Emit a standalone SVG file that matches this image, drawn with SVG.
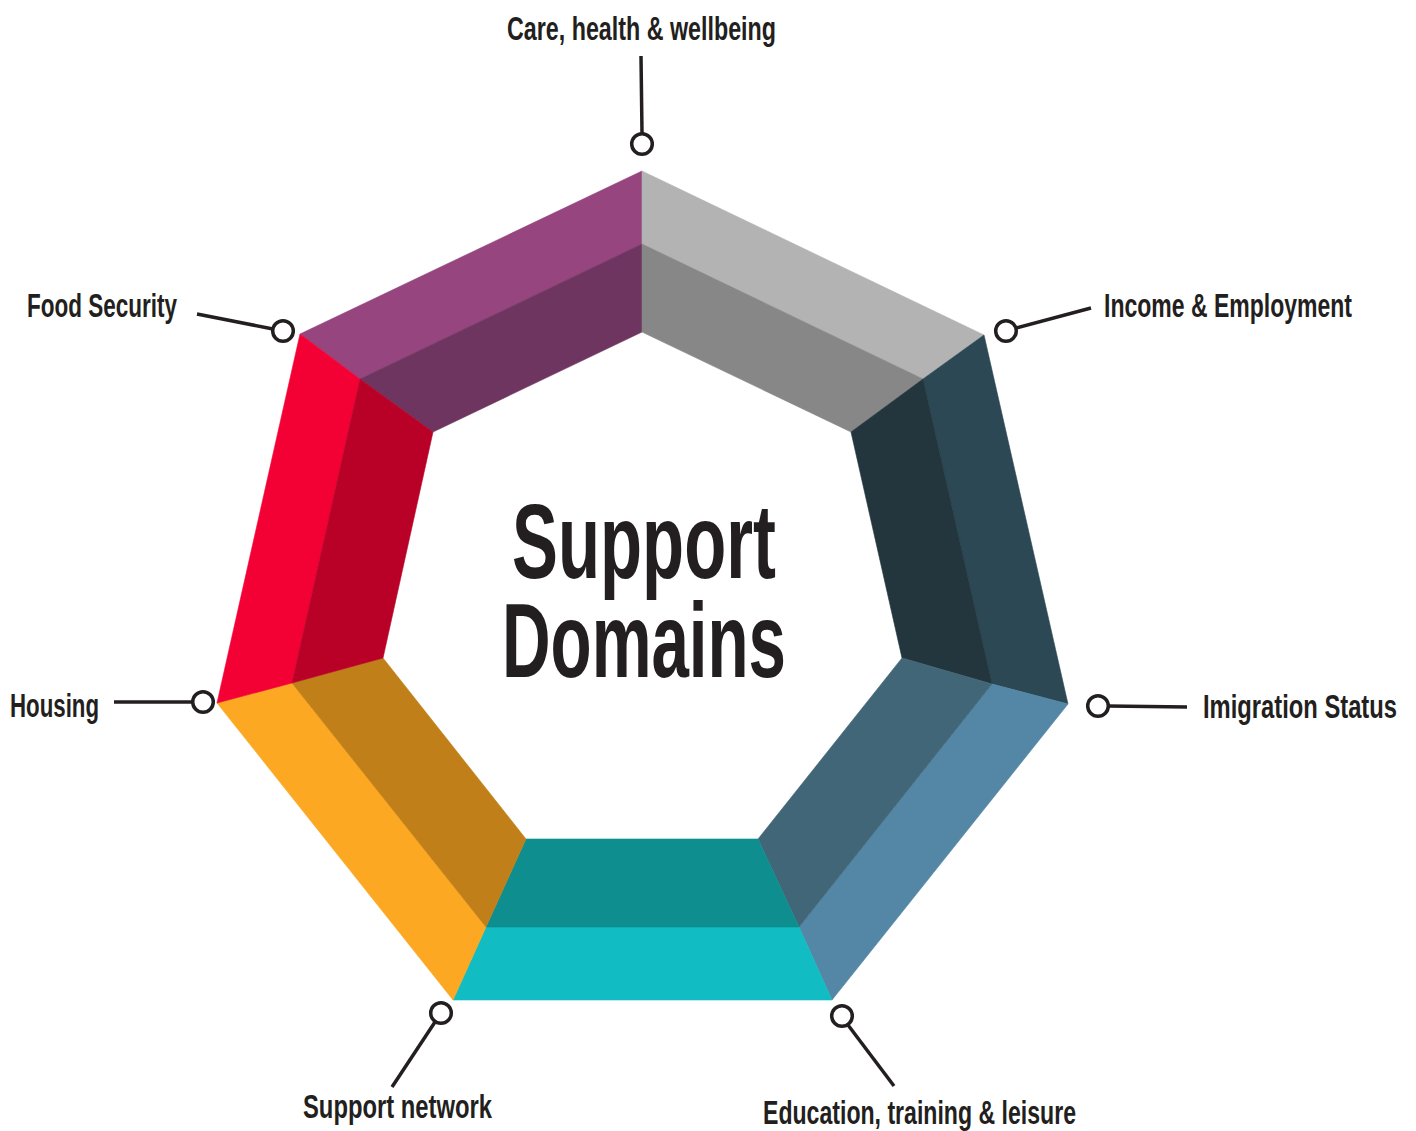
<svg xmlns="http://www.w3.org/2000/svg" width="1416" height="1131" viewBox="0 0 1416 1131">
  <style>
    .lbl { font-family: "Liberation Sans Narrow", "Liberation Sans", "DejaVu Sans Condensed", sans-serif; font-weight: bold; font-size: 33px; fill: #231f20; }
    .title { font-family: "Liberation Sans Narrow", "Liberation Sans", "DejaVu Sans Condensed", sans-serif; font-weight: bold; font-size: 106px; fill: #231f20; }
    .conn line { stroke: #231f20; stroke-width: 3.5; stroke-linecap: butt; }
    .conn circle { fill: #ffffff; stroke: #231f20; stroke-width: 3.5; }
    .seg polygon { stroke-width: 0.6; stroke-linejoin: round; }
  </style>
  <rect x="0" y="0" width="1416" height="1131" fill="#ffffff"/>

  <g id="ring">
    <g id="seg-care" class="seg">
      <polygon points="300,334 642,171 642,244 360,379" fill="#96457f" stroke="#96457f"/>
      <polygon points="360,379 642,244 642,332 433,432" fill="#6e3560" stroke="#6e3560"/>
    </g>
    <g id="seg-income" class="seg">
      <polygon points="642,171 984,335 923,379 642,244" fill="#b3b3b3" stroke="#b3b3b3"/>
      <polygon points="642,244 923,379 851,432 642,332" fill="#878787" stroke="#878787"/>
    </g>
    <g id="seg-immigration" class="seg">
      <polygon points="984,335 1068,704 992,684 923,379" fill="#2c4854" stroke="#2c4854"/>
      <polygon points="923,379 992,684 902,658 851,432" fill="#23363d" stroke="#23363d"/>
    </g>
    <g id="seg-education" class="seg">
      <polygon points="1068,704 832,1000 799,927 992,684" fill="#5487a5" stroke="#5487a5"/>
      <polygon points="992,684 799,927 758,839 902,658" fill="#406677" stroke="#406677"/>
    </g>
    <g id="seg-support" class="seg">
      <polygon points="832,1000 453,1000 486,927 799,927" fill="#11bcc2" stroke="#11bcc2"/>
      <polygon points="799,927 486,927 526,839 758,839" fill="#0f8e8f" stroke="#0f8e8f"/>
    </g>
    <g id="seg-housing" class="seg">
      <polygon points="453,1000 217,703 292,683 486,927" fill="#fca822" stroke="#fca822"/>
      <polygon points="486,927 292,683 383,658 526,839" fill="#c07f18" stroke="#c07f18"/>
    </g>
    <g id="seg-food" class="seg">
      <polygon points="217,703 300,334 360,379 292,683" fill="#f30035" stroke="#f30035"/>
      <polygon points="292,683 360,379 433,432 383,658" fill="#b90027" stroke="#b90027"/>
    </g>
  </g>

  <g id="center-title">
    <text class="title" x="512" y="578" textLength="264" lengthAdjust="spacingAndGlyphs">Support</text>
    <text class="title" x="502" y="677" textLength="284" lengthAdjust="spacingAndGlyphs">Domains</text>
  </g>

  <g id="connectors" class="conn">
    <line x1="641" y1="56" x2="642" y2="133"/>
    <circle cx="642" cy="144" r="10.3"/>
    <line x1="1016" y1="328" x2="1091" y2="308"/>
    <circle cx="1006" cy="331" r="10.3"/>
    <line x1="1108" y1="706" x2="1187" y2="707"/>
    <circle cx="1098" cy="706" r="10.3"/>
    <line x1="848" y1="1025" x2="894" y2="1086"/>
    <circle cx="842" cy="1016" r="10.3"/>
    <line x1="435" y1="1022" x2="392" y2="1087"/>
    <circle cx="441" cy="1013" r="10.3"/>
    <line x1="114" y1="702" x2="193" y2="702"/>
    <circle cx="203" cy="702" r="10.3"/>
    <line x1="197" y1="314" x2="273" y2="329"/>
    <circle cx="283" cy="331" r="10.3"/>
  </g>

  <g id="label-care"><text class="lbl" x="507" y="40" textLength="269" lengthAdjust="spacingAndGlyphs">Care, health &amp; wellbeing</text></g>
  <g id="label-income"><text class="lbl" x="1352" y="317" text-anchor="end" textLength="248" lengthAdjust="spacingAndGlyphs">Income &amp; Employment</text></g>
  <g id="label-immigration"><text class="lbl" x="1397" y="718" text-anchor="end" textLength="194" lengthAdjust="spacingAndGlyphs">Imigration Status</text></g>
  <g id="label-education"><text class="lbl" x="763" y="1124" textLength="313" lengthAdjust="spacingAndGlyphs">Education, training &amp; leisure</text></g>
  <g id="label-support"><text class="lbl" x="303" y="1118" textLength="189" lengthAdjust="spacingAndGlyphs">Support network</text></g>
  <g id="label-housing"><text class="lbl" x="10" y="717" textLength="89" lengthAdjust="spacingAndGlyphs">Housing</text></g>
  <g id="label-food"><text class="lbl" x="27" y="317" textLength="150" lengthAdjust="spacingAndGlyphs">Food Security</text></g>
</svg>
